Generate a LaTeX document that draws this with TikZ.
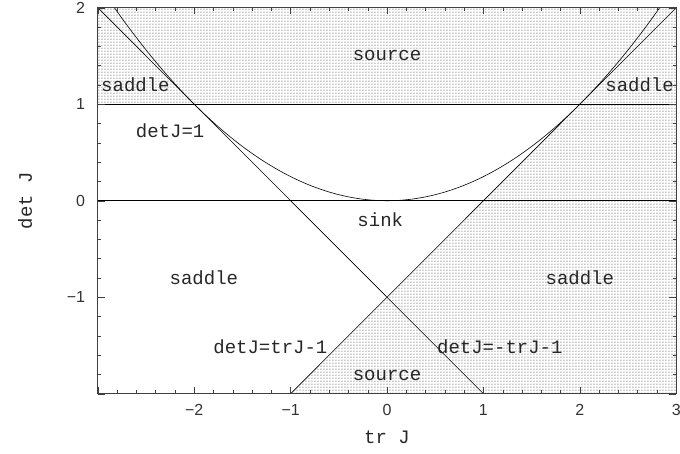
\documentclass[tikz,border=0pt]{standalone}
\usepackage{fontspec}
\usetikzlibrary{patterns}
\setmonofont{Liberation Mono}
\newfontfamily\ticksfont{Liberation Sans}
\begin{document}
\begin{tikzpicture}[x=96.4pt, y=96.5pt,
    lbl/.style={font=\ttfamily\fontsize{19}{19}\selectfont, inner sep=0pt, text=black!85},
    ticklbl/.style={font=\ticksfont\fontsize{16}{16}\selectfont, inner sep=0pt, text=black!80},
    curve/.style={line width=0.6pt},
    shade/.style={pattern=dots, pattern color=black!90}]
    \useasboundingbox (-4.015,-2.616) rectangle (3.039,2.08);
    % 網掛け領域
    \fill[shade] (-3,1) rectangle (3,2);
    \fill[shade] (-1,-2) -- (2,1) -- (3,1) -- (3,-2) -- cycle;
    % 座標点
    \coordinate (ul) at (-3,2);
    \coordinate (lr) at (1,-2);
    \coordinate (ll) at (-1,-2);
    \coordinate (ur) at (3,2);
    \coordinate (oneL) at (-3,1);
    \coordinate (oneR) at (3,1);
    \coordinate (zeroL) at (-3,0);
    \coordinate (zeroR) at (3,0);
    % 直線と放物線
    \draw[curve] (oneL) -- (oneR);
    \draw[curve] (zeroL) -- (zeroR);
    \draw[curve] (ul) -- (lr);
    \draw[curve] (ll) -- (ur);
    \draw[curve] plot[domain=-2.828:2.828, samples=120] (\x, {\x*\x/4});
    % 枠と目盛り
    \draw[line width=0.8pt, black!75] (-3,-2) rectangle (3,2);
    \foreach \i in {-15,...,15}
        \draw[black!75] (\i/5,-2) -- ++(0,0.035) (\i/5,2) -- ++(0,-0.035);
    \foreach \i in {-10,...,10}
        \draw[black!75] (-3,\i/5) -- ++(0.035,0) (3,\i/5) -- ++(-0.035,0);
    \foreach \x in {-3,...,3}
        \draw[black!75] (\x,-2) -- ++(0,0.07) (\x,2) -- ++(0,-0.07);
    \foreach \y in {-2,...,2}
        \draw[black!75] (-3,\y) -- ++(0.07,0) (3,\y) -- ++(-0.07,0);
    % 目盛りの数字
    \foreach \y/\t in {2/2, 1/1, 0/0, -1/{−1}}
        \node[ticklbl, anchor=east] (ytick\y) at (-3.13,\y) {\t};
    \foreach \x/\t in {-2/{−2}, -1/{−1}, 0/0, 1/1, 2/2, 3/3}
        \node[ticklbl] (xtick\x) at (\x,-2.17) {\t};
    % 軸ラベル
    \node[lbl] (xlab) at (0,-2.45) {tr J};
    \node[lbl, rotate=90] (ylab) at (-3.755,0) {det J};
    % 領域ラベル
    \node[lbl] (srcTop) at (0,1.5) {source};
    \node[lbl] (sadTL) at (-2.61,1.2) {saddle};
    \node[lbl] (sadTR) at (2.62,1.2) {saddle};
    \node[lbl] (detOne) at (-2.25,0.73) {detJ=1};
    \node[lbl] (sink) at (-0.07,-0.2) {sink};
    \node[lbl] (sadBL) at (-1.9,-0.8) {saddle};
    \node[lbl] (sadBR) at (2.0,-0.8) {saddle};
    \node[lbl] (lineA) at (-1.21,-1.51) {detJ=trJ-1};
    \node[lbl] (lineB) at (1.17,-1.51) {detJ=-trJ-1};
    \node[lbl] (srcBot) at (0,-1.81) {source};
\end{tikzpicture}
\end{document}
